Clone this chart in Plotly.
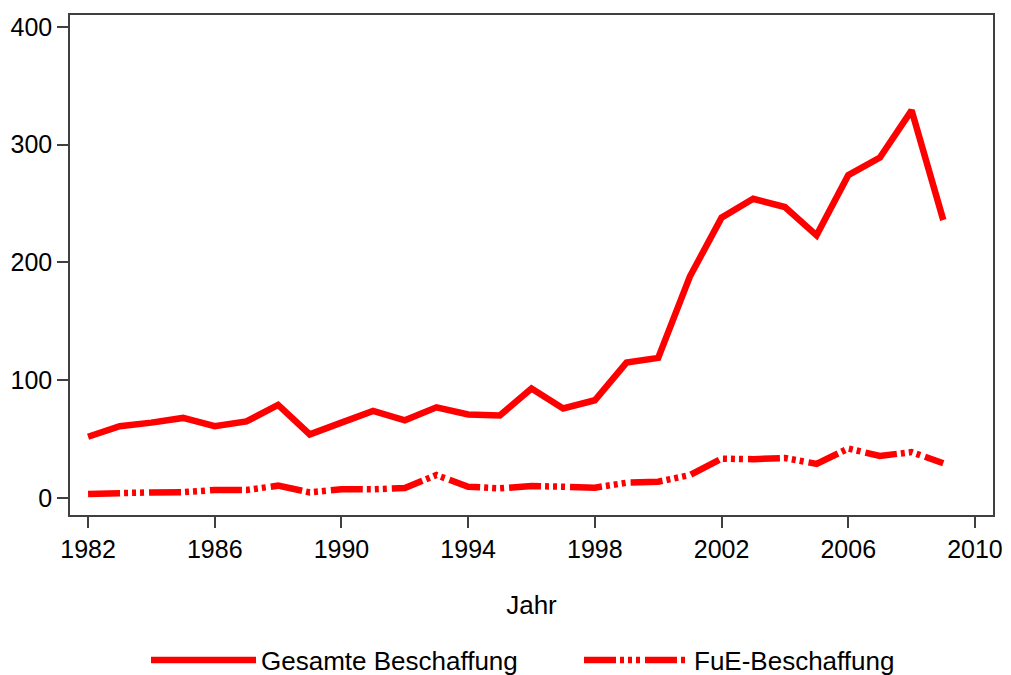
import plotly.graph_objects as go

# Jahre und Werte
jahre = list(range(1982, 2010))
gesamt = [52, 61, 64, 68, 61, 65, 79, 54, 64, 74, 66, 77, 71, 70,
          93, 76, 83, 115, 119, 188, 238, 254, 247, 223, 274, 289, 329, 236]
fue = [3.5, 4.5, 4.8, 5, 6.8, 6.8, 10.5, 4.8, 7.4, 7.4, 8.5, 19.5, 9.6, 8.2,
       10.2, 9.6, 8.8, 13, 13.9, 19.5, 33.4, 33, 34, 29, 42, 35.7, 39, 29.5]

x_ticks = [1982, 1986, 1990, 1994, 1998, 2002, 2006, 2010]
y_ticks = [0, 100, 200, 300, 400]

ROT = "#ff0000"
FONT = "Liberation Sans, Arial, sans-serif"

fig = go.Figure()
fig.add_trace(go.Scatter(x=jahre, y=gesamt, mode="lines", name="Gesamte Beschaffung",
                         line=dict(color=ROT, width=6.5)))
fig.add_trace(go.Scatter(x=jahre, y=fue, mode="lines", name="FuE-Beschaffung",
                         line=dict(color=ROT, width=6.5,
                                   dash="32px,4px,4px,4px,4px,4px,4px,5px")))

achse = dict(showgrid=False, zeroline=False, showline=True, mirror=True,
             linecolor="#404040", linewidth=1.5, ticks="outside", ticklen=11,
             tickcolor="#404040", tickwidth=1.5,
             tickfont=dict(family=FONT, size=25, color="black"))

fig.update_xaxes(range=[1981.43, 2010.57], tickvals=x_ticks,
                 title=dict(text="Jahr", font=dict(family=FONT, size=26, color="black"),
                            standoff=34),
                 **achse)
fig.update_yaxes(range=[-14.4, 410], tickvals=y_ticks, **achse)

# Seite hat 8px Rand, daher Ränder entsprechend verschoben
fig.update_layout(
    width=1011, height=675,
    margin=dict(l=62, r=26, t=7, b=168, autoexpand=False),
    paper_bgcolor="white", plot_bgcolor="white",
    showlegend=True,
    legend=dict(orientation="h", xref="container", x=0.1365, xanchor="left",
                yref="container", y=0.034, yanchor="middle",
                font=dict(family=FONT, size=26, color="black"),
                itemwidth=105, entrywidth=313, tracegroupgap=0),
)

fig.write_html("out.html")
